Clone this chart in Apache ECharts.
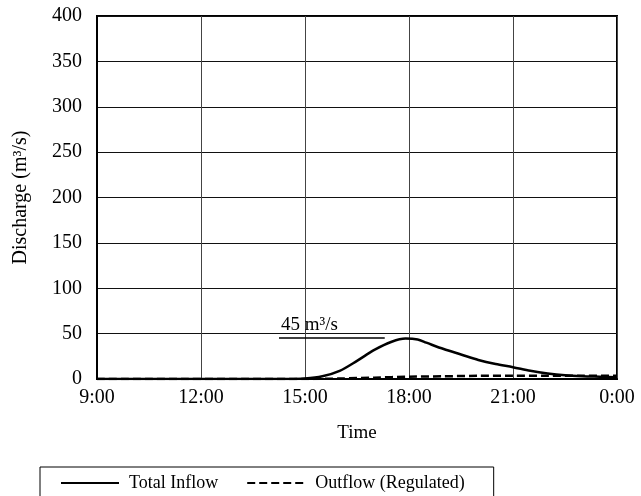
<!DOCTYPE html>
<html>
<head>
<meta charset="utf-8">
<script src="https://cdn.jsdelivr.net/npm/echarts@6/dist/echarts.min.js"></script>
<style>html,body{margin:0;padding:0;background:#fff}#c{width:641px;height:496px}</style>
</head>
<body>
<div id="c"></div>
<script>
// Time in hours from 0:00 of the day (9 = 9:00, 24 = 0:00 next day)
const inflowHours = [9, 14.5, 15, 15.5, 16, 16.5, 17, 17.5, 17.9, 18.25, 18.5, 19, 19.5, 20, 20.5, 21, 21.5, 22, 22.5, 23, 23.5, 24];
const inflowValues = [0, 0, 0.5, 3, 9, 20, 32, 41, 44.5, 43.5, 40, 33, 27, 21, 16.5, 13, 9, 6, 4, 3, 2.5, 2];
const outflowHours = [9, 15, 16, 17, 18, 19, 20, 21, 22, 23, 24];
const outflowValues = [0, 0, 0.5, 1.5, 2.5, 3, 3.5, 3.5, 3.5, 3.5, 3.5];
const peakLabel = '45 m³/s';
const peakValue = 45;
const peakLineHours = [14.25, 17.3];
const seriesNames = ['Total Inflow', 'Outflow (Regulated)'];

const font = 'Liberation Serif';
const chart = echarts.init(document.getElementById('c'), null, {renderer: 'canvas'});
chart.setOption({
  animation: false,
  backgroundColor: '#fff',
  grid: {left: 97, right: 24, top: 16, bottom: 117, show: true, borderColor: '#000', borderWidth: 2},
  xAxis: {
    type: 'value', min: 9, max: 24, interval: 3,
    name: 'Time', nameLocation: 'middle', nameGap: 45,
    nameTextStyle: {fontFamily: font, fontSize: 19, color: '#000'},
    axisLine: {show: true, lineStyle: {color: '#000', width: 2}},
    axisTick: {show: false},
    axisLabel: {fontFamily: font, fontSize: 20, color: '#000', margin: 9,
      formatter: v => (v % 24) + ':00'},
    splitLine: {show: true, lineStyle: {color: '#444', width: 1}}
  },
  yAxis: {
    type: 'value', min: 0, max: 400, interval: 50,
    name: 'Discharge (m³/s)', nameLocation: 'middle', nameGap: 66,
    nameTextStyle: {fontFamily: font, fontSize: 20, color: '#000'},
    axisLine: {show: true, lineStyle: {color: '#000', width: 2}},
    axisTick: {show: false},
    axisLabel: {fontFamily: font, fontSize: 20, color: '#000', margin: 15},
    splitLine: {show: true, lineStyle: {color: '#111', width: 1}}
  },
  legend: {
    left: 40, top: 467,
    padding: [7, 29, 12, 20],
    borderColor: '#000', borderWidth: 1,
    itemWidth: 58, itemHeight: 18, itemGap: 28,
    itemStyle: {opacity: 0},
    textStyle: {fontFamily: font, fontSize: 18, color: '#000', padding: [0, 0, 0, 5]},
    data: seriesNames
  },
  series: [
    {
      name: seriesNames[0], type: 'line', symbol: 'none', smooth: 0.3,
      data: inflowHours.map((h, i) => [h, inflowValues[i]]),
      lineStyle: {color: '#000', width: 2.5},
      itemStyle: {color: '#000'},
      z: 3,
      markLine: {
        silent: true, symbol: 'none',
        lineStyle: {color: '#000', width: 1.5, type: 'solid'},
        label: {show: true, position: 'insideStartTop', formatter: peakLabel,
          fontFamily: font, fontSize: 19, color: '#000', distance: [2, 4]},
        data: [[{coord: [peakLineHours[0], peakValue]}, {coord: [peakLineHours[1], peakValue]}]]
      }
    },
    {
      name: seriesNames[1], type: 'line', symbol: 'none', smooth: 0.3,
      data: outflowHours.map((h, i) => [h, outflowValues[i]]),
      lineStyle: {color: '#000', width: 2.5, type: [8, 4]},
      itemStyle: {color: '#000'},
      z: 4
    }
  ]
});
</script>
</body>
</html>
